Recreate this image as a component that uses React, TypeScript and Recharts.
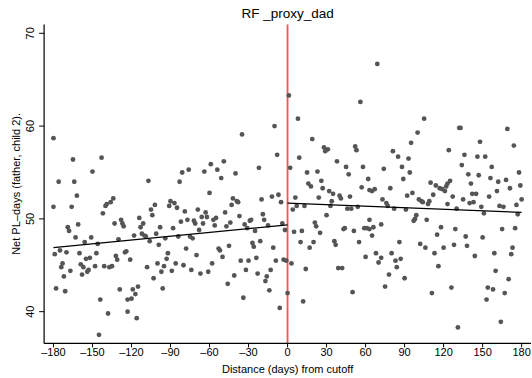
import React from 'react';
import { ScatterChart, Scatter, XAxis, YAxis, ReferenceLine } from 'recharts';

// Distance (days) from cutoff
const days: number[] = [
  -180, -180, -179, -178, -176, -175, -174, -173, -172, -171, -170, -169, -168, -167, -166, -165, -164, -163, -162, -161,
  -160, -159, -158, -157, -156, -155, -154, -153, -152, -151, -150, -148, -147, -146, -145, -144, -143, -142, -141, -140,
  -139, -138, -137, -136, -135, -134, -133, -132, -131, -130, -129, -128, -127, -126, -125, -124, -123, -123, -121, -120,
  -119, -118, -117, -116, -115, -114, -113, -112, -111, -110, -109, -108, -107, -106, -105, -104, -103, -102, -101, -100,
  -99, -98, -97, -96, -95, -94, -93, -92, -91, -90, -89, -88, -87, -86, -85, -84, -83, -82, -81, -80,
  -79, -78, -77, -76, -75, -74, -73, -72, -71, -70, -69, -68, -67, -66, -65, -64, -63, -62, -61, -60,
  -59, -58, -57, -56, -55, -54, -53, -52, -51, -50, -49, -48, -47, -46, -45, -44, -43, -42, -41, -40,
  -39, -38, -37, -36, -35, -34, -33, -32, -31, -30, -29, -28, -27, -26, -25, -24, -23, -22, -21, -20,
  -19, -18, -17, -16, -15, -14, -13, -12, -11, -10, -9, -8, -7, -6, -5, -4, -3, -2, -1, 0,
  1, 2, 3, 4, 5, 6, 7, 8, 9, 10, 11, 12, 13, 14, 15, 16, 17, 18, 19, 20,
  21, 22, 23, 24, 25, 26, 27, 28, 29, 30, 31, 32, 33, 34, 35, 36, 37, 38, 39, 40,
  41, 42, 43, 44, 45, 46, 47, 48, 49, 50, 51, 52, 53, 54, 55, 56, 57, 58, 59, 60,
  61, 62, 63, 63, 63, 65, 65, 66, 67, 68, 69, 70, 72, 72, 73, 74, 75, 76, 77, 78,
  79, 80, 81, 82, 83, 84, 85, 86, 87, 88, 89, 90, 91, 92, 93, 94, 95, 96, 97, 98,
  99, 100, 101, 102, 103, 104, 105, 106, 107, 108, 109, 110, 111, 112, 113, 114, 115, 116, 117, 118,
  119, 120, 121, 122, 123, 123, 124, 125, 126, 127, 128, 129, 130, 131, 132, 133, 134, 135, 136, 137,
  138, 139, 140, 141, 142, 143, 144, 145, 146, 147, 148, 149, 150, 151, 152, 153, 154, 155, 156, 157,
  158, 159, 160, 161, 162, 163, 164, 165, 166, 167, 168, 169, 170, 171, 172, 173, 174, 175, 176, 177,
  178, 179, 180,
];

// Net PL-days (father, child 2)
const netPLDays: number[] = [
  51.3, 58.7, 46.2, 42.5, 54.0, 46.6, 44.8, 45.2, 43.8, 42.2, 46.4, 49.1, 48.7, 44.4, 51.3, 56.4, 54.0, 48.0, 52.5, 49.4,
  46.3, 45.1, 44.0, 44.8, 47.5, 45.7, 44.3, 44.5, 45.8, 48.0, 55.1, 44.9, 46.3, 47.3, 37.5, 41.3, 56.6, 50.6, 44.9, 51.4,
  51.6, 39.8, 44.8, 51.8, 44.9, 52.2, 49.5, 46.0, 45.6, 47.8, 42.4, 49.9, 49.5, 49.2, 46.4, 46.5, 41.3, 40.0, 45.6, 41.4,
  42.4, 48.2, 41.9, 39.3, 42.7, 50.1, 49.1, 48.4, 49.5, 48.2, 48.1, 44.8, 54.1, 47.6, 51.0, 50.4, 43.6, 51.5, 48.4, 45.2,
  47.2, 49.1, 44.3, 42.5, 44.9, 47.9, 45.7, 46.3, 51.4, 51.9, 44.4, 49.0, 51.7, 45.2, 51.2, 48.1, 54.0, 49.7, 55.0, 45.0,
  50.8, 46.8, 49.9, 55.3, 48.1, 44.5, 47.9, 49.8, 49.5, 46.1, 51.0, 48.8, 44.1, 50.2, 49.5, 55.1, 50.7, 50.2, 44.3, 52.8,
  55.9, 45.2, 49.9, 49.3, 50.1, 55.3, 46.8, 46.6, 54.4, 45.9, 56.2, 50.7, 49.2, 43.0, 47.1, 49.6, 51.5, 52.2, 43.9, 54.9,
  51.9, 51.8, 50.3, 45.5, 59.1, 41.5, 49.4, 44.5, 49.0, 45.5, 49.8, 49.9, 47.4, 47.0, 48.7, 45.8, 44.1, 55.5, 47.6, 52.1,
  50.5, 49.9, 43.3, 43.8, 49.3, 42.3, 44.5, 52.4, 46.9, 60.0, 45.5, 56.9, 52.6, 40.4, 51.8, 49.5, 45.6, 48.8, 45.5, 42.0,
  63.3, 55.5, 45.2, 51.0, 48.6, 52.3, 51.4, 60.8, 56.6, 47.5, 48.7, 41.1, 51.4, 44.6, 55.0, 53.8, 46.9, 53.5, 58.6, 47.5,
  49.6, 49.2, 55.1, 52.3, 48.5, 54.1, 53.3, 57.7, 57.3, 50.4, 57.5, 53.0, 51.4, 51.9, 52.7, 47.6, 47.2, 56.2, 44.7, 52.5,
  52.2, 44.7, 48.9, 49.0, 55.6, 51.1, 54.8, 52.4, 51.1, 42.1, 48.7, 57.8, 57.4, 51.3, 47.5, 62.6, 53.4, 55.6, 49.0, 45.9,
  49.0, 54.3, 49.9, 53.1, 48.9, 53.0, 48.2, 49.1, 53.2, 46.3, 66.7, 45.3, 49.4, 45.8, 52.1, 55.4, 42.7, 51.7, 51.4, 44.0,
  53.3, 46.3, 57.3, 51.1, 45.5, 44.8, 56.7, 47.5, 45.7, 55.6, 54.3, 43.6, 51.0, 52.5, 56.5, 55.0, 58.2, 52.8, 49.8, 50.0,
  50.4, 59.3, 52.1, 47.3, 51.9, 51.8, 60.8, 46.9, 49.9, 51.6, 51.9, 53.9, 42.0, 52.6, 46.3, 53.6, 48.3, 44.9, 53.3, 49.1,
  53.2, 46.9, 53.0, 53.5, 51.6, 53.8, 57.4, 54.1, 42.6, 52.4, 47.2, 48.9, 51.1, 38.3, 59.8, 59.8, 55.8, 52.1, 56.9, 48.1,
  47.1, 54.8, 51.7, 53.8, 52.7, 51.8, 46.0, 52.7, 56.7, 54.7, 58.3, 51.3, 48.0, 50.6, 56.7, 41.3, 42.6, 52.4, 54.4, 55.6,
  42.4, 46.3, 44.4, 53.0, 54.0, 51.4, 38.9, 48.9, 51.3, 42.0, 54.2, 59.7, 43.5, 53.3, 46.2, 46.9, 57.9, 49.0, 51.5, 50.5,
  55.0, 53.6, 52.1,
];

// Linear fits on each side of the cutoff
const fitLeftDays: number[] = [-180, 0];
const fitLeftValues: number[] = [46.9, 49.35];
const fitRightDays: number[] = [0, 180];
const fitRightValues: number[] = [51.7, 50.7];

const xTicks: number[] = [-180, -150, -120, -90, -60, -30, 0, 30, 60, 90, 120, 150, 180];
const yTicks: number[] = [40, 50, 60, 70];

const titleText = 'RF _proxy_dad';
const xTitle = 'Distance (days) from cutoff';
const yTitle = 'Net PL–days (father, child 2).';

const points = days.map((d, i) => ({ x: d, y: netPLDays[i] }));
const leftFit = fitLeftDays.map((d, i) => ({ x: d, y: fitLeftValues[i] }));
const rightFit = fitRightDays.map((d, i) => ({ x: d, y: fitRightValues[i] }));

const FONT = '"Liberation Sans", Arial, Helvetica, sans-serif';
const X_DOMAIN: [number, number] = [-187.2, 187.2];
const Y_DOMAIN: [number, number] = [36.58, 70.96];

const fmtTick = (v: number) => String(v).replace('-', '\u2013');

const YTick = (props: any) => {
  const { y, payload } = props;
  return (
    <text
      x={34}
      y={y}
      transform={`rotate(-90, 34, ${y})`}
      textAnchor="middle"
      fontSize={11}
      fontFamily={FONT}
      fill="#000"
    >
      {payload.value}
    </text>
  );
};

const Dot = (props: any) => {
  const { cx, cy } = props;
  if (cx == null || cy == null) return <g />;
  return <circle cx={cx} cy={cy} r={2.4} fill="#555555" />;
};

const NoDot = () => <g />;

export default function App() {
  return (
    <div style={{ position: 'absolute', left: 0, top: 0, width: 532, height: 378, background: '#fff' }}>
      <ScatterChart
        width={532}
        height={378}
        margin={{ top: 24.4, right: 1, bottom: 0, left: 0 }}
        style={{ fontFamily: FONT }}
      >
        <XAxis
          xAxisId="b"
          type="number"
          dataKey="x"
          domain={X_DOMAIN}
          ticks={xTicks}
          interval={0}
          allowDataOverflow
          height={34.6}
          tickSize={4}
          tickMargin={1}
          tickFormatter={fmtTick}
          tick={{ fontSize: 11, fill: '#000', fontFamily: FONT }}
          axisLine={{ stroke: '#000', strokeWidth: 1.2 }}
          tickLine={{ stroke: '#000' }}
        />
        <XAxis
          xAxisId="t"
          orientation="top"
          type="number"
          domain={X_DOMAIN}
          allowDataOverflow
          height={0}
          tick={false}
          tickLine={false}
          axisLine={{ stroke: '#000', strokeWidth: 1.2 }}
        />
        <YAxis
          yAxisId="l"
          type="number"
          dataKey="y"
          domain={Y_DOMAIN}
          ticks={yTicks}
          interval={0}
          allowDataOverflow
          width={44.1}
          tickSize={5}
          tick={<YTick />}
          axisLine={{ stroke: '#000', strokeWidth: 1.2 }}
          tickLine={{ stroke: '#000' }}
        />
        <YAxis
          yAxisId="r"
          orientation="right"
          type="number"
          domain={Y_DOMAIN}
          allowDataOverflow
          width={0}
          tick={false}
          tickLine={false}
          axisLine={{ stroke: '#000', strokeWidth: 1.2 }}
        />
        <ReferenceLine xAxisId="b" yAxisId="l" x={0} stroke="#ff5050" strokeWidth={1.8} />
        <Scatter
          xAxisId="b"
          yAxisId="l"
          data={points}
          shape={<Dot />}
          isAnimationActive={false}
        />
        <Scatter
          xAxisId="b"
          yAxisId="l"
          data={leftFit}
          shape={<NoDot />}
          line={{ stroke: '#000', strokeWidth: 1.2 }}
          isAnimationActive={false}
        />
        <Scatter
          xAxisId="b"
          yAxisId="l"
          data={rightFit}
          shape={<NoDot />}
          line={{ stroke: '#000', strokeWidth: 1.2 }}
          isAnimationActive={false}
        />
        <text x={287.6} y={18.3} textAnchor="middle" fontSize={13.5} fontFamily={FONT} fill="#000">
          {titleText}
        </text>
        <text x={287.6} y={372.5} textAnchor="middle" fontSize={11} fontFamily={FONT} fill="#000">
          {xTitle}
        </text>
        <text
          x={20.5}
          y={183.9}
          transform="rotate(-90, 20.5, 183.9)"
          textAnchor="middle"
          fontSize={11}
          fontFamily={FONT}
          fill="#000"
        >
          {yTitle}
        </text>
      </ScatterChart>
    </div>
  );
}
